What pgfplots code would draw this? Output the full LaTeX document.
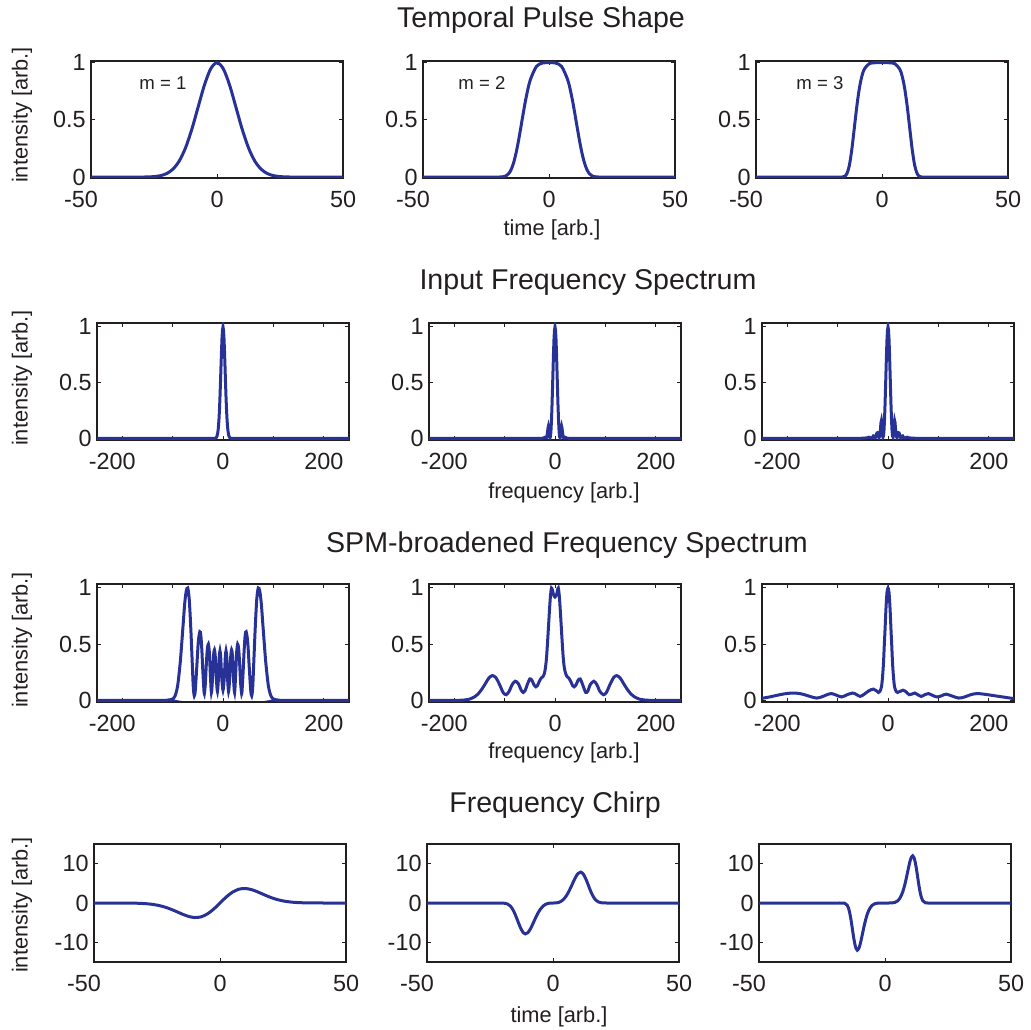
\documentclass[border=0pt]{standalone}
\usepackage{fontspec}
\setmainfont{Liberation Sans}
\usepackage{pgfplots}
\pgfplotsset{compat=1.18}
\definecolor{myblue}{RGB}{40,50,150}
\definecolor{axc}{RGB}{35,31,32}
\newcommand{\tickfont}{\fontsize{11.7}{14}\selectfont}
\newcommand{\labfont}{\fontsize{10.9}{13}\selectfont}
\newcommand{\titfont}{\fontsize{14.3}{17}\selectfont}
\newcommand{\mfont}{\fontsize{9.3}{11}\selectfont}
\newcommand{\negl}[1]{\hspace*{-10pt}#1}
\pgfplotsset{
 panel/.style={scale only axis, width=126pt, height=58.5pt, anchor=north west,
   axis line style={line width=0.6pt, draw=axc},
   tick style={draw=axc, line width=0.5pt}, major tick length=2.2pt, tick align=inside,
   tick label style={font=\tickfont, text=axc},
   xticklabel style={yshift=-2.8pt},
   yticklabel style={xshift=0.8pt},
   clip=true},
 trow/.style={panel, xmin=-50, xmax=50, xtick={-50,0,50}, xticklabels={\negl{-50},0,50}},
 frow/.style={panel, xmin=-250, xmax=250, xtick={-200,-100,0,100,200}, xticklabels={\negl{-200},,0,,200}},
 urow/.style={ymin=-0.008, ymax=1.015, ytick={0,0.5,1}, yticklabels={0,0.5,1}},
 srow/.style={ymin=-0.015, ymax=1.035, ytick={0,0.5,1}, yticklabels={0,0.5,1}},
 crow/.style={ymin=-15, ymax=15, ytick={-10,0,10}, yticklabels={-10,0,10}},
 curve/.style={line width=1.5pt, draw=myblue, no marks},
}
\begin{document}
\begin{tikzpicture}
\path[use as bounding box] (0,0) rectangle (515.5pt,514.5pt);
% ---------------- Row 1: temporal pulse shape
\begin{axis}[trow, urow, at={(45.5pt,484pt)}]
\addplot[curve, smooth] coordinates {(-50,0) (-40,0) (-35,0) (-30,0.0004) (-27.5,0.00135) (-25,0.00426) (-22.5,0.01202) (-20,0.0304) (-17.5,0.0689) (-15,0.1402) (-12.5,0.2555) (-10,0.4176) (-7.5,0.6118) (-5,0.8039) (-2.5,0.9469) (0,1) (2.5,0.9469) (5,0.8039) (7.5,0.6118) (10,0.4176) (12.5,0.2555) (15,0.1402) (17.5,0.0689) (20,0.0304) (22.5,0.01202) (25,0.00426) (27.5,0.00135) (30,0.0004) (35,0) (40,0) (50,0)};
\end{axis}
\begin{axis}[trow, urow, at={(211.5pt,484pt)}]
\addplot[curve, smooth] coordinates {(-50,0) (-40,0) (-30,0) (-22,0) (-20,0.0002) (-18,0.0037) (-17,0.0116) (-16,0.0303) (-15,0.0671) (-14,0.1287) (-13,0.2178) (-12,0.3307) (-11,0.4578) (-10,0.5864) (-9,0.7046) (-7.5,0.8447) (-5,0.9672) (-2.5,0.9979) (0,1) (2.5,0.9979) (5,0.9672) (7.5,0.8447) (9,0.7046) (10,0.5864) (11,0.4578) (12,0.3307) (13,0.2178) (14,0.1287) (15,0.0671) (16,0.0303) (17,0.0116) (18,0.0037) (20,0.0002) (22,0) (30,0) (40,0) (50,0)};
\end{axis}
\begin{axis}[trow, urow, at={(378pt,484pt)}]
\addplot[curve, smooth] coordinates {(-50,0) (-40,0) (-30,0) (-18,0) (-16,0.0003) (-15,0.0042) (-14,0.0269) (-13,0.0984) (-12,0.2383) (-11,0.4269) (-10,0.6185) (-9,0.7747) (-8,0.8817) (-7,0.9450) (-5,0.9925) (-2.5,0.9999) (0,1) (2.5,0.9999) (5,0.9925) (7,0.9450) (8,0.8817) (9,0.7747) (10,0.6185) (11,0.4269) (12,0.2383) (13,0.0984) (14,0.0269) (15,0.0042) (16,0.0003) (18,0) (30,0) (40,0) (50,0)};
\end{axis}
% ---------------- Row 2: input spectrum
\begin{axis}[frow, srow, at={(48.5pt,353pt)}]
\addplot[curve] coordinates {(-250,0) (-50,0) (-25,0) (-17,0.0003) (-15,0.002) (-13,0.0092) (-12,0.0184) (-11,0.0349) (-10,0.0625) (-9,0.1059) (-8,0.1696) (-7,0.2570) (-6,0.3686) (-5,0.5) (-4,0.6417) (-3,0.7791) (-2,0.8950) (-1,0.9727) (0,1) (1,0.9727) (2,0.8950) (3,0.7791) (4,0.6417) (5,0.5) (6,0.3686) (7,0.2570) (8,0.1696) (9,0.1059) (10,0.0625) (11,0.0349) (12,0.0184) (13,0.0092) (15,0.002) (17,0.0003) (25,0) (50,0) (250,0)};
\end{axis}
\begin{axis}[frow, srow, at={(214.5pt,353pt)}]
\addplot[curve] coordinates {(-250,0) (-40,0) (-30,0) (-25,0.001) (-22,0.004) (-21,0.008) (-20,0.01) (-19,0.008) (-18,0.003) (-17,0.005) (-16,0.02) (-15,0.05) (-14,0.09) (-13,0.11) (-12,0.09) (-11,0.04) (-10,0.005) (-9,0.015) (-8,0.07) (-7,0.16) (-6,0.29) (-5,0.44) (-4,0.60) (-3,0.76) (-2,0.89) (-1,0.97) (0,1) (1,0.97) (2,0.89) (3,0.76) (4,0.60) (5,0.44) (6,0.29) (7,0.16) (8,0.07) (9,0.015) (10,0.005) (11,0.04) (12,0.09) (13,0.11) (14,0.09) (15,0.05) (16,0.02) (17,0.005) (18,0.003) (19,0.008) (20,0.01) (21,0.008) (22,0.004) (25,0.001) (30,0) (40,0) (250,0)};
\end{axis}
\begin{axis}[frow, srow, at={(381pt,353pt)}]
\addplot[curve] coordinates {(-250,0) (-60,0) (-50,0.001) (-45,0.003) (-40,0.006) (-38,0.01) (-36,0.008) (-34,0.002) (-32,0.004) (-30,0.015) (-29,0.022) (-28,0.02) (-27,0.01) (-26,0.003) (-25,0.006) (-24,0.02) (-23,0.035) (-22,0.048) (-21,0.05) (-20,0.04) (-19,0.02) (-18,0.005) (-17,0.012) (-16,0.035) (-15,0.08) (-14,0.14) (-13,0.16) (-12,0.13) (-11,0.06) (-10,0.01) (-9,0.02) (-8,0.07) (-7,0.16) (-6,0.29) (-5,0.44) (-4,0.60) (-3,0.76) (-2,0.89) (-1,0.97) (0,1) (1,0.97) (2,0.89) (3,0.76) (4,0.60) (5,0.44) (6,0.29) (7,0.16) (8,0.07) (9,0.02) (10,0.01) (11,0.06) (12,0.13) (13,0.16) (14,0.14) (15,0.08) (16,0.035) (17,0.012) (18,0.005) (19,0.02) (20,0.04) (21,0.05) (22,0.048) (23,0.035) (24,0.02) (25,0.006) (26,0.003) (27,0.01) (28,0.02) (29,0.022) (30,0.015) (32,0.004) (34,0.002) (36,0.008) (38,0.01) (40,0.006) (45,0.003) (50,0.001) (60,0) (250,0)};
\end{axis}
% ---------------- Row 3: SPM-broadened spectrum
\begin{axis}[frow, srow, height=59pt, at={(48.5pt,222.5pt)}]
\addplot[curve, smooth] coordinates {(-250,0) (-120,0) (-110,0.002) (-105,0.005) (-100,0.012) (-95,0.04) (-90,0.13) (-85,0.33) (-82,0.5) (-79,0.68) (-76,0.86) (-73,0.97) (-70,1.0) (-67,0.9) (-64,0.65) (-61,0.33) (-59,0.12) (-57,0.04) (-55,0.09) (-52,0.3) (-49,0.52) (-46,0.61) (-44,0.58) (-42,0.45) (-40,0.26) (-38,0.1) (-37,0.06) (-35,0.15) (-33,0.33) (-31,0.46) (-29,0.5) (-27,0.42) (-25,0.22) (-23,0.07) (-21,0.18) (-19,0.38) (-17,0.45) (-15,0.37) (-13,0.18) (-11,0.08) (-9,0.2) (-7.5,0.38) (-6,0.44) (-4.5,0.38) (-2.5,0.2) (0,0.09) (2.5,0.2) (4.5,0.38) (6,0.44) (7.5,0.38) (9,0.2) (11,0.08) (13,0.18) (15,0.37) (17,0.45) (19,0.38) (21,0.18) (23,0.07) (25,0.22) (27,0.42) (29,0.5) (31,0.46) (33,0.33) (35,0.15) (37,0.06) (38,0.1) (40,0.26) (42,0.45) (44,0.58) (46,0.61) (49,0.52) (52,0.3) (55,0.09) (57,0.04) (59,0.12) (61,0.33) (64,0.65) (67,0.9) (70,1.0) (73,0.97) (76,0.86) (79,0.68) (82,0.5) (85,0.33) (90,0.13) (95,0.04) (100,0.012) (105,0.005) (110,0.002) (120,0) (250,0)};
\end{axis}
\begin{axis}[frow, srow, height=59pt, at={(214.5pt,222.5pt)}]
\addplot[curve, smooth] coordinates {(-250,0) (-200,0) (-190,0) (-180,0.003) (-170,0.01) (-160,0.03) (-152,0.06) (-145,0.1) (-138,0.15) (-131,0.2) (-124,0.22) (-117,0.2) (-110,0.14) (-103,0.07) (-97,0.05) (-91,0.08) (-85,0.14) (-79,0.17) (-73,0.15) (-67,0.09) (-63,0.07) (-59,0.09) (-55,0.14) (-50,0.19) (-46,0.18) (-42,0.14) (-38,0.12) (-35,0.13) (-31,0.17) (-27,0.2) (-24,0.21) (-21,0.24) (-19,0.29) (-17,0.37) (-15,0.5) (-13,0.65) (-11,0.8) (-9,0.93) (-7,1.0) (-5,0.98) (-3,0.94) (0,0.92) (3,0.94) (5,0.98) (6.5,1.0) (8.5,0.93) (10.5,0.8) (12.5,0.65) (14.5,0.5) (16.5,0.37) (18.5,0.29) (21,0.24) (24,0.21) (27,0.2) (31,0.17) (35,0.13) (38,0.12) (42,0.14) (46,0.18) (50,0.19) (54,0.15) (58,0.1) (61,0.07) (65,0.08) (70,0.14) (77,0.17) (83,0.14) (89,0.08) (96,0.05) (102,0.07) (109,0.14) (116,0.2) (122,0.22) (129,0.2) (136,0.15) (143,0.1) (150,0.06) (158,0.03) (168,0.01) (178,0.003) (188,0) (200,0) (250,0)};
\end{axis}
\begin{axis}[frow, srow, height=59pt, at={(381pt,222.5pt)}]
\addplot[curve, smooth] coordinates {(-250,0.018) (-235,0.03) (-220,0.045) (-205,0.058) (-189,0.065) (-175,0.06) (-162,0.045) (-150,0.028) (-142,0.02) (-132,0.03) (-121,0.05) (-112,0.06) (-102,0.045) (-92,0.03) (-81,0.05) (-70,0.065) (-62,0.05) (-55,0.035) (-47,0.055) (-38,0.085) (-29,0.1) (-23,0.085) (-19,0.07) (-16,0.08) (-13,0.12) (-11,0.2) (-9,0.33) (-7.5,0.48) (-6,0.62) (-4,0.82) (-2,0.96) (0,1.0) (2,0.96) (4,0.82) (6,0.62) (7.5,0.48) (9,0.33) (11,0.2) (13,0.12) (16,0.08) (19,0.07) (24,0.08) (30,0.09) (36,0.075) (42,0.05) (47,0.055) (53,0.065) (59,0.05) (66,0.035) (73,0.05) (80,0.06) (88,0.045) (97,0.03) (106,0.04) (115,0.055) (126,0.04) (140,0.02) (152,0.03) (164,0.05) (176,0.06) (190,0.055) (205,0.045) (220,0.035) (235,0.025) (250,0.015)};
\end{axis}
% ---------------- Row 4: frequency chirp
\begin{axis}[trow, crow, height=59pt, at={(47pt,92.5pt)}]
\addplot[curve, smooth] coordinates {(-50,0) (-40,-0.004) (-35,-0.029) (-32.5,-0.067) (-30,-0.144) (-27.5,-0.289) (-25,-0.535) (-22.5,-0.917) (-20,-1.451) (-17.5,-2.111) (-15,-2.812) (-12.5,-3.403) (-10,-3.694) (-7.5,-3.512) (-5,-2.774) (-2.5,-1.536) (0,0) (2.5,1.536) (5,2.774) (7.5,3.512) (10,3.694) (12.5,3.403) (15,2.812) (17.5,2.111) (20,1.451) (22.5,0.917) (25,0.535) (27.5,0.289) (30,0.144) (32.5,0.067) (35,0.029) (40,0.004) (50,0)};
\end{axis}
\begin{axis}[trow, crow, height=59pt, at={(213.5pt,92.5pt)}]
\addplot[curve, smooth] coordinates {(-50,0) (-40,0) (-30,0) (-22,0) (-20,-0.020) (-19,-0.084) (-18,-0.277) (-17,-0.733) (-16,-1.598) (-15,-2.916) (-14,-4.547) (-13,-6.161) (-12,-7.357) (-11,-7.846) (-10,-7.550) (-9,-6.612) (-8,-5.297) (-7,-3.885) (-6,-2.596) (-5,-1.557) (-4,-0.813) (-3,-0.348) (-2,-0.103) (-1,-0.013) (0,0) (1,0.013) (2,0.103) (3,0.348) (4,0.813) (5,1.557) (6,2.596) (7,3.885) (8,5.297) (9,6.612) (10,7.550) (11,7.846) (12,7.357) (13,6.161) (14,4.547) (15,2.916) (16,1.598) (17,0.733) (18,0.277) (19,0.084) (20,0.020) (22,0) (30,0) (40,0) (50,0)};
\end{axis}
\begin{axis}[trow, crow, height=59pt, at={(379.5pt,92.5pt)}]
\addplot[curve, smooth] coordinates {(-50,0) (-40,0) (-30,0) (-20,0) (-17,0) (-16,-0.058) (-15,-0.558) (-14.5,-1.288) (-14,-2.523) (-13.5,-4.273) (-13,-6.375) (-12.5,-8.521) (-12,-10.35) (-11.5,-11.55) (-11,-12.00) (-10.5,-11.70) (-10,-10.795) (-9.5,-9.486) (-9,-7.985) (-8,-5.042) (-7,-2.772) (-6,-1.327) (-5,-0.541) (-4,-0.179) (-3,-0.042) (-2,-0.005) (0,0) (2,0.005) (3,0.042) (4,0.179) (5,0.541) (6,1.327) (7,2.772) (8,5.042) (9,7.985) (9.5,9.486) (10,10.795) (10.5,11.70) (11,12.00) (11.5,11.55) (12,10.35) (12.5,8.521) (13,6.375) (13.5,4.273) (14,2.523) (14.5,1.288) (15,0.558) (16,0.058) (17,0) (20,0) (30,0) (40,0) (50,0)};
\end{axis}
% ---------------- texts
\begin{scope}[every node/.style={text=axc, inner sep=0pt}]
\node[font=\titfont] at (270.5pt,504.5pt) {Temporal Pulse Shape};
\node[font=\titfont] at (294pt,373.5pt) {Input Frequency Spectrum};
\node[font=\titfont] at (283.5pt,242pt) {SPM-broadened Frequency Spectrum};
\node[font=\titfont] at (277.5pt,112pt) {Frequency Chirp};
\node[font=\mfont] at (81.5pt,473pt) {m = 1};
\node[font=\mfont] at (241pt,473pt) {m = 2};
\node[font=\mfont] at (410pt,473pt) {m = 3};
\node[font=\labfont] at (276pt,399.5pt) {time [arb.]};
\node[font=\labfont] at (282pt,268pt) {frequency [arb.]};
\node[font=\labfont] at (282pt,138pt) {frequency [arb.]};
\node[font=\labfont] at (279.5pt,6pt) {time [arb.]};
\node[font=\labfont, rotate=90] at (11pt,457pt) {intensity [arb.]};
\node[font=\labfont, rotate=90] at (11pt,325.5pt) {intensity [arb.]};
\node[font=\labfont, rotate=90] at (11pt,194.5pt) {intensity [arb.]};
\node[font=\labfont, rotate=90] at (11pt,62pt) {intensity [arb.]};
\end{scope}
\end{tikzpicture}
\end{document}
